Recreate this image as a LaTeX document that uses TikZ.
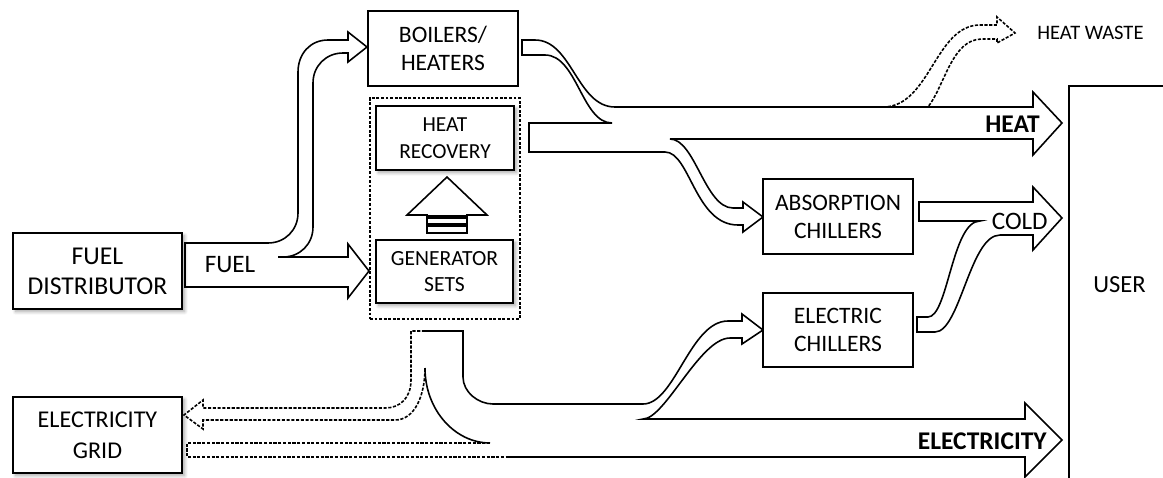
\documentclass[tikz,border=0pt]{standalone}
\usepackage{fontspec}
\setmainfont{Carlito}
\usetikzlibrary{shadows.blur}

\begin{document}
\begin{tikzpicture}[
	x=0.02cm, y=-0.02cm,
	box/.style={ draw, line width=1.1pt, fill=white, align=center, inner sep=0pt, font=\fontsize{13.4}{16}\selectfont },
	boxs/.style={ box, blur shadow={shadow xshift=1.5pt, shadow yshift=-1.5pt, shadow blur steps=6, shadow opacity=35} },
	flow/.style={ draw, line width=0.9pt, fill=white },
	flowline/.style={ draw, line width=0.9pt },
	flowd/.style={ draw, line width=0.9pt, dash pattern=on 1.8pt off 0.9pt },
	lbl/.style={ inner sep=0pt, font=\fontsize{14.3}{16}\selectfont },
	lblb/.style={ inner sep=0pt, font=\fontsize{14.5}{16}\selectfont\bfseries }
]
\clip (0,0) rectangle (1163,477);

\node[draw, line width=1.1pt, dash pattern=on 1.6pt off 1pt, minimum width=3cm, minimum height=4.42cm] at (445,208.5) (chp) {};

% fuel
\draw[flow] (185,287) -- (185,243) -- (268,243) .. controls (285,243) and (298,230) .. (298,213) -- (298,72) .. controls (298,54) and (310,40) .. (328,40) -- (348,40) -- (348,32) -- (367,47) -- (348,62) -- (348,53) -- (343,53) .. controls (326,53) and (313,66) .. (313,83) -- (313,227) .. controls (313,244) and (300,257) .. (283,257) -- (278,257) -- (348,257) -- (348,244) -- (369,271) -- (348,298) -- (348,287) -- cycle;
\node[lbl] at (230,265) (fuellbl) {FUEL};

% heat
\draw[flow] (529,152) -- (529,123) -- (612,123) .. controls (582,123) and (577,55) .. (545,55) -- (522,55) -- (522,40) -- (535,40) .. controls (572,40) and (577,107) .. (615,107) -- (1033,107) -- (1033,92) -- (1062,123) -- (1033,155) -- (1033,139) -- (670,139) .. controls (695,139) and (705,208) .. (733,208) -- (743,208) -- (743,202) -- (763,217) -- (743,232) -- (743,225) -- (738,225) .. controls (695,225) and (690,152) .. (665,152) -- cycle;
\draw[flowd] (883,107) .. controls (930,107) and (935,25) .. (980,25) -- (997,25) -- (997,17) -- (1015,33) -- (997,43) -- (997,39) -- (982,39) .. controls (952,39) and (945,85) .. (928,107);
\node[lblb, anchor=east] at (1040,124.5) (heatlbl) {HEAT};
\node[inner sep=0pt, font=\fontsize{11.7}{14}\selectfont, anchor=west] at (1037,32.5) (wastelbl) {HEAT WASTE};

% cold
\draw[flow] (919,221) -- (919,202) -- (1033,202) -- (1033,187) -- (1062,218) -- (1033,250) -- (1033,235) -- (1000,235) .. controls (970,235) and (960,332) .. (935,332) -- (917,332) -- (917,317) -- (928,317) .. controls (948,317) and (952,221) .. (980,221) -- cycle;
\node[lbl, anchor=east] at (1048,221) (coldlbl) {COLD};

% electricity
\draw[flowline] (425,331) -- (463,331) -- (463,377) .. controls (463,392) and (478,404) .. (493,404) -- (643,404) .. controls (675,404) and (690,321) .. (728,321) -- (742,321) -- (742,314) -- (763,330) -- (742,344) -- (742,338) -- (730,338) .. controls (700,338) and (665,419) .. (643,419) -- (1025,419) -- (1025,403) -- (1062,440) -- (1025,477) -- (1025,457) -- (507,457);
\draw[flowline] (425,368) .. controls (425,410) and (455,443) .. (490,443);
\draw[flowd] (425,331) -- (411,331) -- (411,380) .. controls (411,398) and (400,408) .. (385,408) -- (203,408) -- (203,400) -- (184,415) -- (203,429) -- (203,420) -- (395,420) .. controls (415,420) and (425,395) .. (425,368);
\draw[flowd] (490,443) -- (187,443) -- (187,457) -- (507,457);
\node[lblb, anchor=east] at (1047,441) (eleclbl) {ELECTRICITY};

% recovery arrow
\draw[flow] (427,233) -- (427,215) -- (407,215) -- (447,177) -- (487,215) -- (467,215) -- (467,233) -- cycle;
\fill (427,215) rectangle (467,219);
\fill (427,223) rectangle (467,227);

\node[boxs, minimum width=3.38cm, minimum height=1.52cm, font=\fontsize{14.6}{17}\selectfont] at (97.5,271) (fuel) {FUEL\\DISTRIBUTOR};
\node[boxs, minimum width=3.38cm, minimum height=1.52cm, font=\fontsize{13.7}{17.5}\selectfont] at (97.5,435) (grid) {ELECTRICITY\\GRID};
\node[box, minimum width=3cm, minimum height=1.5cm] at (443,48.5) (boil) {BOILERS/\\HEATERS};
\node[boxs, minimum width=2.76cm, minimum height=1.28cm, font=\fontsize{12.2}{15.7}\selectfont] at (445,138) (hrec) {HEAT\\RECOVERY};
\node[boxs, minimum width=2.74cm, minimum height=1.26cm, font=\fontsize{12.3}{15}\selectfont] at (444.5,271.5) (gens) {GENERATOR\\SETS};
\node[box, minimum width=3cm, minimum height=1.5cm] at (838,216.5) (abs) {ABSORPTION\\CHILLERS};
\node[box, minimum width=3cm, minimum height=1.48cm] at (838,330) (elch) {ELECTRIC\\CHILLERS};
\node[draw, line width=1pt, minimum width=2.62cm, minimum height=8.68cm] at (1134.5,303) (user) {};
\node[lbl, font=\fontsize{14}{16}\selectfont] at (1119.5,284.5) (userlbl) {USER};

\end{tikzpicture}
\end{document}
